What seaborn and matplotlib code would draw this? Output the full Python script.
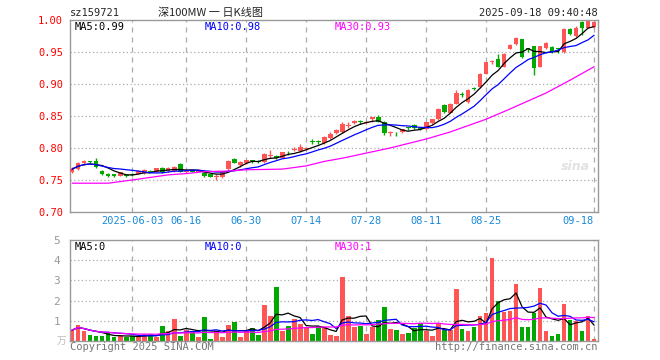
import numpy as np
import pandas as pd
import matplotlib
matplotlib.use("Agg")
import matplotlib.pyplot as plt
import seaborn as sns

# trading days shown (Dragon Boat holiday 06-02 closed)
dates = pd.bdate_range("2025-05-19", "2025-09-18")
dates = dates[dates != pd.Timestamp("2025-06-02")]

tick_dates = ["2025-06-03", "2025-06-16", "2025-06-30", "2025-07-14",
              "2025-07-28", "2025-08-11", "2025-08-25", "2025-09-18"]
tick_labels = ["2025-06-03", "06-16", "06-30", "07-14", "07-28", "08-11", "08-25", "09-18"]

# daily OHLC
open_ = [0.763, 0.767, 0.776, 0.779, 0.780, 0.764, 0.760, 0.759, 0.757, 0.758,
         0.759, 0.760, 0.761, 0.764, 0.763, 0.769, 0.764, 0.764, 0.775, 0.762,
         0.765, 0.763, 0.761, 0.759, 0.755, 0.754, 0.767, 0.783, 0.773, 0.776,
         0.781, 0.780, 0.778, 0.788, 0.788, 0.785, 0.794, 0.797, 0.795, 0.799,
         0.811, 0.811, 0.808, 0.815, 0.823, 0.825, 0.834, 0.839, 0.842, 0.839,
         0.845, 0.848, 0.841, 0.823, 0.824, 0.825, 0.832, 0.836, 0.831, 0.830,
         0.839, 0.845, 0.867, 0.855, 0.869, 0.884, 0.872, 0.893, 0.895, 0.916,
         0.935, 0.939, 0.927, 0.955, 0.962, 0.970, 0.956, 0.959, 0.927, 0.956,
         0.958, 0.956, 0.950, 0.986, 0.975, 0.997, 0.988, 0.989]
high = [0.771, 0.778, 0.781, 0.779, 0.784, 0.765, 0.761, 0.760, 0.763, 0.759,
        0.761, 0.765, 0.767, 0.766, 0.769, 0.770, 0.770, 0.772, 0.776, 0.765,
        0.766, 0.767, 0.762, 0.760, 0.759, 0.764, 0.781, 0.785, 0.780, 0.782,
        0.782, 0.781, 0.792, 0.797, 0.789, 0.794, 0.795, 0.802, 0.806, 0.802,
        0.814, 0.812, 0.818, 0.825, 0.829, 0.840, 0.840, 0.843, 0.843, 0.842,
        0.849, 0.852, 0.842, 0.827, 0.825, 0.830, 0.833, 0.837, 0.833, 0.841,
        0.846, 0.862, 0.868, 0.870, 0.890, 0.887, 0.892, 0.896, 0.917, 0.935,
        0.937, 0.947, 0.948, 0.962, 0.973, 0.971, 0.957, 0.960, 0.960, 0.965,
        0.959, 0.957, 0.987, 0.987, 0.991, 0.999, 1.000, 0.999]
low = [0.761, 0.765, 0.774, 0.776, 0.769, 0.758, 0.755, 0.754, 0.756, 0.754,
       0.757, 0.759, 0.760, 0.762, 0.762, 0.761, 0.763, 0.763, 0.762, 0.761,
       0.762, 0.762, 0.755, 0.754, 0.750, 0.753, 0.766, 0.776, 0.771, 0.775,
       0.777, 0.777, 0.776, 0.784, 0.783, 0.784, 0.789, 0.795, 0.794, 0.797,
       0.806, 0.807, 0.807, 0.814, 0.822, 0.824, 0.831, 0.838, 0.838, 0.838,
       0.840, 0.840, 0.821, 0.819, 0.819, 0.824, 0.828, 0.830, 0.828, 0.829,
       0.838, 0.844, 0.855, 0.854, 0.868, 0.879, 0.871, 0.891, 0.894, 0.915,
       0.932, 0.926, 0.926, 0.954, 0.961, 0.941, 0.950, 0.914, 0.926, 0.955,
       0.949, 0.948, 0.949, 0.977, 0.974, 0.976, 0.987, 0.988]
close = [0.767, 0.776, 0.779, 0.778, 0.770, 0.760, 0.757, 0.756, 0.762, 0.756,
         0.758, 0.764, 0.766, 0.763, 0.768, 0.762, 0.769, 0.770, 0.763, 0.764,
         0.763, 0.766, 0.756, 0.755, 0.756, 0.763, 0.780, 0.777, 0.778, 0.781,
         0.780, 0.778, 0.791, 0.789, 0.784, 0.793, 0.793, 0.798, 0.802, 0.800,
         0.810, 0.809, 0.817, 0.822, 0.828, 0.838, 0.836, 0.842, 0.841, 0.841,
         0.848, 0.841, 0.823, 0.825, 0.823, 0.829, 0.831, 0.831, 0.830, 0.840,
         0.845, 0.861, 0.856, 0.869, 0.886, 0.883, 0.891, 0.892, 0.916, 0.934,
         0.936, 0.927, 0.947, 0.961, 0.972, 0.942, 0.955, 0.925, 0.959, 0.964,
         0.950, 0.955, 0.986, 0.978, 0.987, 0.988, 0.998, 0.997]

# volume in 万
volume = [0.54, 0.79, 0.51, 0.30, 0.25, 0.25, 0.38, 0.18, 0.25, 0.18,
          0.25, 0.25, 0.33, 0.33, 0.18, 0.74, 0.48, 1.09, 0.25, 0.54,
          0.48, 0.20, 1.17, 0.10, 0.48, 0.18, 0.79, 0.94, 0.18, 0.48,
          0.64, 0.30, 1.78, 1.24, 2.66, 0.48, 0.74, 1.09, 0.84, 0.67,
          0.35, 0.76, 0.71, 0.30, 0.25, 3.18, 1.24, 0.67, 0.76, 0.35,
          0.71, 1.04, 1.70, 0.58, 0.54, 0.35, 0.41, 0.64, 0.87, 0.51,
          0.25, 0.87, 0.56, 0.54, 2.57, 0.58, 0.48, 0.71, 1.24, 1.40,
          4.12, 2.00, 1.45, 1.50, 2.82, 0.67, 0.71, 1.40, 2.61, 0.51,
          0.25, 0.35, 1.83, 1.06, 1.00, 0.51, 1.24, 0.10]

# 30-day price average, read at a few days
ma30_days = [0, 6, 10, 13, 16, 19, 22, 26, 29, 35, 39, 42, 45, 49, 53, 56, 59, 63, 69, 73, 79, 83, 87]
ma30_vals = [0.745, 0.745, 0.750, 0.754, 0.758, 0.760, 0.763, 0.764, 0.766, 0.767, 0.772, 0.779,
             0.784, 0.792, 0.800, 0.807, 0.814, 0.825, 0.845, 0.861, 0.886, 0.906, 0.927]

RED = "#ff5555"
GREEN = "#00a800"
GRID = "#aaaaaa"
MONO = "DejaVu Sans Mono"
CJK = ["Noto Sans CJK SC", "DejaVu Sans Mono"]

df = pd.DataFrame({"date": dates, "open": open_, "high": high, "low": low,
                   "close": close, "volume": volume})
df["i"] = np.arange(len(df))
df["up"] = df["close"] >= df["open"]
df["color"] = np.where(df["up"], RED, GREEN)
df["ma5"] = df["close"].rolling(5, min_periods=1).mean()
df["ma10"] = df["close"].rolling(10, min_periods=1).mean()
df["vma5"] = df["volume"].rolling(5, min_periods=1).mean()
df["vma10"] = df["volume"].rolling(10, min_periods=1).mean()
df["vma30"] = df["volume"].rolling(30, min_periods=1).mean()
ma30 = pd.DataFrame({"i": ma30_days, "v": ma30_vals})

tick_pos = [int(np.where(df["date"] == pd.Timestamp(d))[0][0]) for d in tick_dates]

sns.set_style("white")
plt.rcParams["font.family"] = [MONO]

W, H = 660, 360
fig = plt.figure(figsize=(6.6, 3.6), dpi=100)
ax = fig.add_axes([70 / W, 148 / H, 528 / W, 192 / H])
axv = fig.add_axes([70 / W, 19 / H, 528 / W, 101 / H])

xmin = -0.35
for a in (ax, axv):
    a.set_xlim(xmin, xmin + 88)
    for s in a.spines.values():
        s.set_color("#999999")
        s.set_linewidth(1)
    for p in tick_pos:
        a.axvline(p, color=GRID, lw=0.9, ls=(0, (4, 4)), zorder=0)
    a.tick_params(length=0)

# price panel
ax.set_ylim(0.70, 1.00)
for y in [0.75, 0.80, 0.85, 0.90, 0.95]:
    ax.axhline(y, color=GRID, lw=0.9, ls=(0, (1, 2)), zorder=0)

body_lo = np.minimum(df["open"], df["close"])
body_h = np.maximum(np.abs(df["close"] - df["open"]), 0.0012)
ax.vlines(df["i"], df["low"], df["high"], colors=df["color"], lw=1, zorder=2)
ax.bar(df["i"], body_h, bottom=body_lo, width=0.8, color=df["color"], lw=0, zorder=3)

sns.lineplot(data=df, x="i", y="ma5", color="black", lw=0.9, ax=ax, zorder=4)
sns.lineplot(data=df, x="i", y="ma10", color="#0000ff", lw=0.9, ax=ax, zorder=4)
sns.lineplot(data=ma30, x="i", y="v", color="#ff00ff", lw=0.9, ax=ax, zorder=4)

ax.set_yticks([0.70, 0.75, 0.80, 0.85, 0.90, 0.95, 1.00])
ax.set_yticklabels([f"{v:.2f}" for v in ax.get_yticks()], color="#ff0000", fontsize=7.5)
ax.set_xticks(tick_pos)
ax.set_xticklabels(tick_labels, color="#1a8ad8", fontsize=7.5)
ax.get_xticklabels()[-1].set_horizontalalignment("right")
ax.tick_params(axis="y", pad=5)
ax.tick_params(axis="x", pad=3)
ax.set_xlabel("")
ax.set_ylabel("")

# volume panel
axv.set_ylim(0, 5)
for y in [1, 2, 3, 4]:
    axv.axhline(y, color=GRID, lw=0.9, ls=(0, (1, 2)), zorder=0)
axv.bar(df["i"], df["volume"], width=0.8, color=df["color"], lw=0, zorder=2)
sns.lineplot(data=df, x="i", y="vma5", color="black", lw=0.9, ax=axv, zorder=3)
sns.lineplot(data=df, x="i", y="vma10", color="#0000ff", lw=0.9, ax=axv, zorder=3)
sns.lineplot(data=df, x="i", y="vma30", color="#ff00ff", lw=0.9, ax=axv, zorder=3)
axv.set_yticks([1, 2, 3, 4, 5])
axv.set_yticklabels(["1", "2", "3", "4", "5"], color="#999999", fontsize=8)
axv.set_xticks([])
axv.tick_params(axis="y", pad=7)
axv.set_xlabel("")
axv.set_ylabel("")


def px(x, y):
    return x / W, 1 - y / H


fs = 7.5
fig.text(*px(70, 13), "sz159721", fontsize=fs, va="center", ha="left")
fig.text(*px(210, 13), "深100MW 一 日K线图", fontsize=8, va="center", ha="center", family=CJK)
fig.text(*px(598, 13), "2025-09-18 09:40:48", fontsize=fs, va="center", ha="right")

last = df.iloc[-1]
fig.text(*px(75, 27), f"MA5:{last['ma5']:.2f}", fontsize=fs, va="center", color="black")
fig.text(*px(205, 27), f"MA10:{last['ma10']:.2f}", fontsize=fs, va="center", color="#0000ff")
fig.text(*px(335, 27), f"MA30:{ma30_vals[-1]:.2f}", fontsize=fs, va="center", color="#ff00ff")

fig.text(*px(75, 247), f"MA5:{int(last['vma5'])}", fontsize=fs, va="center", color="black")
fig.text(*px(205, 247), f"MA10:{int(last['vma10'])}", fontsize=fs, va="center", color="#0000ff")
fig.text(*px(335, 247), f"MA30:{int(last['vma30'])}", fontsize=fs, va="center", color="#ff00ff")

fig.text(*px(66, 341), "万", fontsize=7, va="center", ha="right", color="#bbbbbb", family=CJK)
fig.text(*px(70, 347), "Copyright 2025 SINA.COM", fontsize=fs, va="center", ha="left", color="#777777")
fig.text(*px(598, 347), "http://finance.sina.com.cn", fontsize=fs, va="center", ha="right", color="#777777")
fig.text(*px(575, 167), "sina", fontsize=9, va="center", ha="center", color="#e2e2e2",
         style="italic", weight="bold", family="DejaVu Sans")

fig.savefig("out.png", dpi=100)
